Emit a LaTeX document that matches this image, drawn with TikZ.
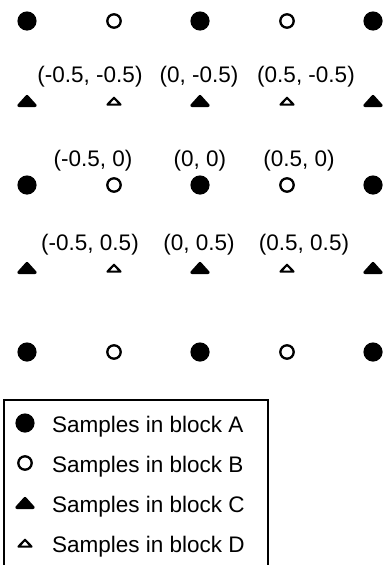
\documentclass[tikz,border=0pt]{standalone}
\usepackage{fontspec}
\setmainfont{Liberation Sans}
\begin{document}
\begin{tikzpicture}[x=1pt,y=-1pt,
  lbl/.style={inner sep=0pt,anchor=base,font=\fontsize{22.5}{26}\selectfont},
  legtext/.style={inner sep=0pt,anchor=base west,font=\fontsize{22.5}{26}\selectfont},
  bigdot/.pic={\fill (0,0) circle (9.6);},
  opendot/.pic={\draw[line width=2.3pt] (0,0) circle (6.7);},
  filltri/.pic={\filldraw[line width=3pt,line join=round] (-8.2,4.5) -- (8.2,4.5) -- (0,-4.6) -- cycle;},
  opentri/.pic={\draw[line width=2.2pt,line join=round] (-6.5,3.6) -- (6.5,3.6) -- (0,-3.2) -- cycle;}
]
\useasboundingbox (0,0) rectangle (383,565);
% grid of samples
\foreach \y in {21,185,352} {
  \foreach \x in {27,200,373} { \pic at (\x,\y) {bigdot}; }
  \foreach \x in {114,287} { \pic at (\x,\y) {opendot}; }
}
\foreach \y in {101,268} {
  \foreach \x in {27,200,373} { \pic at (\x,\y) {filltri}; }
  \foreach \x in {114,287} { \pic at (\x,\y) {opentri}; }
}
% coordinate labels
\node[lbl] (l11) at (90,82) {(-0.5, -0.5)};
\node[lbl] (l12) at (199,82) {(0, -0.5)};
\node[lbl] (l13) at (306,82) {(0.5, -0.5)};
\node[lbl] (l21) at (93,166) {(-0.5, 0)};
\node[lbl] (l22) at (200,166) {(0, 0)};
\node[lbl] (l23) at (299,166) {(0.5, 0)};
\node[lbl] (l31) at (90,250) {(-0.5, 0.5)};
\node[lbl] (l32) at (199,250) {(0, 0.5)};
\node[lbl] (l33) at (304,250) {(0.5, 0.5)};
% legend
\draw[line width=1.5pt] (4,570) -- (4,400) -- (268,400) -- (268,570);
\pic at (25,423) {bigdot};
\pic at (25,463) {opendot};
\pic at (25,503) {filltri};
\pic at (25,543) {opentri};
\node[legtext] (la) at (52,432) {Samples in block A};
\node[legtext] (lb) at (52,472) {Samples in block B};
\node[legtext] (lc) at (52,512) {Samples in block C};
\node[legtext] (ld) at (52,552) {Samples in block D};
\end{tikzpicture}
\end{document}
